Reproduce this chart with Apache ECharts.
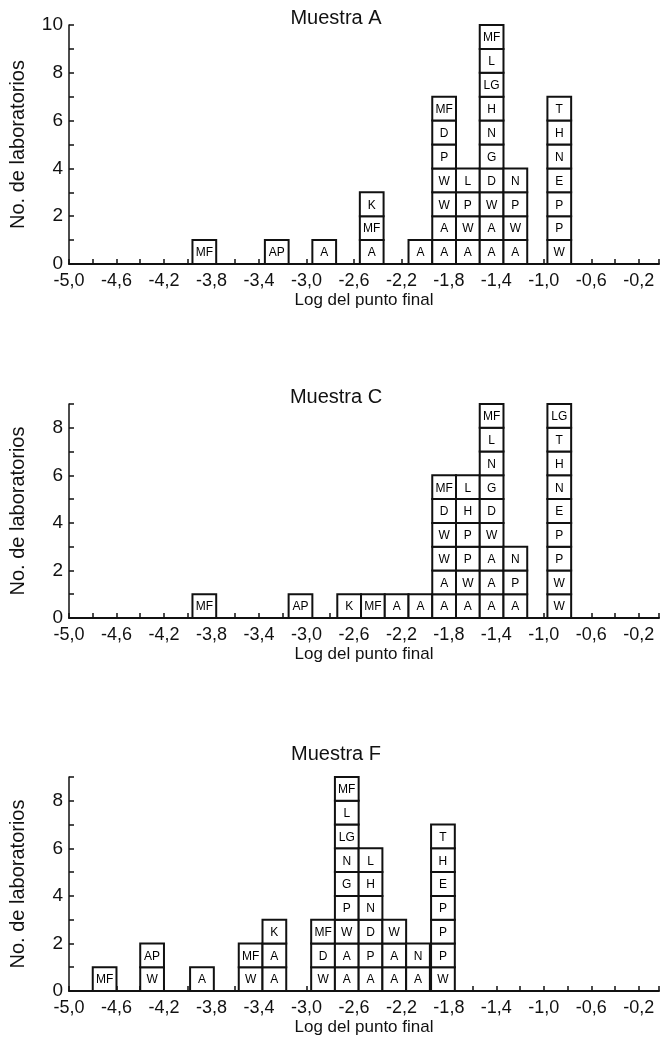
<!DOCTYPE html>
<html>
<head>
<meta charset="utf-8">
<script src="https://cdn.jsdelivr.net/npm/echarts@6/dist/echarts.min.js"></script>
<style>
html, body { margin: 0; padding: 0; background: #fff; }
#chart { width: 662px; height: 1049px; }
</style>
</head>
<body>
<div id="chart"></div>
<script>
// centre of each column on the log axis, and the lab codes stacked bottom -> top
var xA = [-3.86, -3.25, -2.85, -2.45, -2.04, -1.84, -1.64, -1.44, -1.24, -0.87];
var stacksA = [
    ['MF'], ['AP'], ['A'], ['A', 'MF', 'K'], ['A'],
    ['A', 'A', 'W', 'W', 'P', 'D', 'MF'],
    ['A', 'W', 'P', 'L'],
    ['A', 'A', 'W', 'D', 'G', 'N', 'H', 'LG', 'L', 'MF'],
    ['A', 'W', 'P', 'N'],
    ['W', 'P', 'P', 'E', 'N', 'H', 'T']
];

var xC = [-3.86, -3.05, -2.64, -2.44, -2.24, -2.04, -1.84, -1.64, -1.44, -1.24, -0.87];
var stacksC = [
    ['MF'], ['AP'], ['K'], ['MF'], ['A'], ['A'],
    ['A', 'A', 'W', 'W', 'D', 'MF'],
    ['A', 'W', 'P', 'P', 'H', 'L'],
    ['A', 'A', 'A', 'W', 'D', 'G', 'N', 'L', 'MF'],
    ['A', 'P', 'N'],
    ['W', 'W', 'P', 'P', 'E', 'N', 'H', 'T', 'LG']
];

var xF = [-4.70, -4.30, -3.88, -3.47, -3.27, -2.86, -2.66, -2.46, -2.26, -2.06, -1.85];
var stacksF = [
    ['MF'], ['W', 'AP'], ['A'], ['W', 'MF'], ['A', 'A', 'K'],
    ['W', 'D', 'MF'],
    ['A', 'A', 'W', 'P', 'G', 'N', 'LG', 'L', 'MF'],
    ['A', 'P', 'D', 'N', 'H', 'L'],
    ['A', 'A', 'W'],
    ['A', 'N'],
    ['W', 'P', 'P', 'P', 'E', 'H', 'T']
];

var titles = ['Muestra A', 'Muestra C', 'Muestra F'];
var yMax = [10, 9, 9];

var BOX = 0.2;   // bin width on the log axis
var NARROW = '"Liberation Sans Narrow", "Arial Narrow", "Liberation Sans", sans-serif';
var PLAIN = '"Liberation Sans", Arial, sans-serif';
var INK = '#111';

// grid placement of the three panels (px)
var gridTop = [25, 404, 777];
var gridH = [239, 214, 214];
var titleY = [18, 397, 754];

function flatten(xs, stacks) {
    var out = [];
    for (var i = 0; i < xs.length; i++) {
        for (var j = 0; j < stacks[i].length; j++) {
            out.push([xs[i], j, stacks[i][j]]);
        }
    }
    return out;
}

function boxRenderer(items) {
    return function (params, api) {
        var cx = api.value(0), lvl = api.value(1);
        var tl = api.coord([cx - BOX / 2, lvl + 1]);
        var br = api.coord([cx + BOX / 2, lvl]);
        return {
            type: 'group',
            children: [{
                type: 'rect',
                shape: {x: tl[0], y: tl[1], width: br[0] - tl[0], height: br[1] - tl[1]},
                style: {fill: '#fff', stroke: INK, lineWidth: 2}
            }, {
                type: 'text',
                style: {
                    text: items[params.dataIndex][2],
                    x: (tl[0] + br[0]) / 2,
                    y: (tl[1] + br[1]) / 2 + 1,
                    align: 'center',
                    verticalAlign: 'middle',
                    fill: '#000',
                    font: '12px ' + NARROW
                }
            }]
        };
    };
}

function xLabel(v) {
    var k = (v + 5) / 0.2, n = Math.round(k);
    if (Math.abs(k - n) > 0.01 || n % 2) return '';
    return v.toFixed(1).replace('.', ',');
}

function yLabel(v) {
    return v % 2 === 0 ? String(v) : '';
}

var all = [flatten(xA, stacksA), flatten(xC, stacksC), flatten(xF, stacksF)];

var grids = [], xAxes = [], yAxes = [], series = [], graphics = [];
for (var i = 0; i < 3; i++) {
    grids.push({left: 65, right: 0, top: gridTop[i], height: gridH[i], containLabel: false});
    xAxes.push({
        type: 'value', gridIndex: i, min: -5, max: -0.03, interval: 0.2,
        axisLine: {lineStyle: {color: INK, width: 2}},
        axisTick: {inside: true, length: 5, lineStyle: {color: INK, width: 1.5}},
        splitLine: {show: false},
        axisLabel: {formatter: xLabel, color: INK, fontSize: 18, fontFamily: NARROW, margin: 8, hideOverlap: false},
        name: 'Log del punto final', nameLocation: 'middle', nameGap: 28,
        nameTextStyle: {color: INK, fontSize: 17, fontFamily: NARROW}
    });
    yAxes.push({
        type: 'value', gridIndex: i, min: 0, max: yMax[i], interval: 1,
        axisLine: {show: true, lineStyle: {color: INK, width: 1.5}},
        axisTick: {show: true, inside: true, length: 5, lineStyle: {color: INK, width: 1.5}},
        splitLine: {show: false},
        axisLabel: {formatter: yLabel, color: INK, fontSize: 19, fontFamily: PLAIN, margin: 6},
        name: 'No. de laboratorios', nameLocation: 'middle', nameRotate: 90, nameGap: 41,
        nameTextStyle: {color: INK, fontSize: 20, fontFamily: NARROW}
    });
    series.push({
        type: 'custom', xAxisIndex: i, yAxisIndex: i,
        renderItem: boxRenderer(all[i]),
        encode: {x: 0, y: 1},
        data: all[i].map(function (d) { return [d[0], d[1]]; }),
        clip: false, silent: true
    });
    graphics.push({
        type: 'text', x: 336, y: titleY[i],
        style: {text: titles[i], align: 'center', verticalAlign: 'middle', fill: INK, font: '20px ' + PLAIN}
    });
}

var chart = echarts.init(document.getElementById('chart'), null, {renderer: 'canvas'});
chart.setOption({
    animation: false,
    backgroundColor: '#fff',
    grid: grids,
    xAxis: xAxes,
    yAxis: yAxes,
    series: series,
    graphic: graphics
});
</script>
</body>
</html>
